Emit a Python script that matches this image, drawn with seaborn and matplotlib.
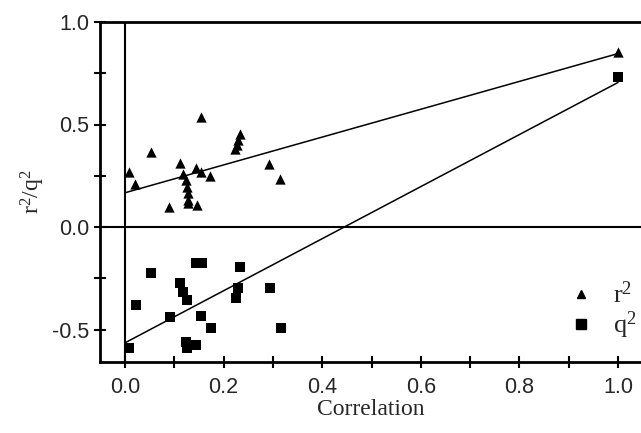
import matplotlib
matplotlib.use("Agg")
import matplotlib.pyplot as plt
import seaborn as sns
import numpy as np
import pandas as pd
from matplotlib.lines import Line2D

# ---- data ----
r2_x = [0.009, 0.02, 0.052, 0.09, 0.112, 0.117, 0.124, 0.126, 0.127, 0.128, 0.128,
        0.147, 0.145, 0.155, 0.155, 0.172, 0.233, 0.230, 0.227, 0.223, 0.293, 0.314, 1.0]
r2_y = [0.27, 0.21, 0.364, 0.096, 0.31, 0.26, 0.23, 0.197, 0.164, 0.13, 0.115,
        0.107, 0.286, 0.535, 0.27, 0.25, 0.454, 0.424, 0.40, 0.38, 0.306, 0.233, 0.855]

q2_x = [0.009, 0.022, 0.052, 0.091, 0.112, 0.117, 0.126, 0.124, 0.126, 0.145, 0.145,
        0.157, 0.155, 0.174, 0.233, 0.230, 0.225, 0.294, 0.316, 1.0]
q2_y = [-0.59, -0.38, -0.223, -0.44, -0.275, -0.315, -0.356, -0.56, -0.59, -0.576, -0.174,
        -0.174, -0.433, -0.495, -0.193, -0.296, -0.348, -0.296, -0.494, 0.73]

# fitted lines: [intercept, slope]
r2_fit = [0.167, 0.679]
q2_fit = [-0.565, 1.27]
fit_x = [0.0, 1.0]

x_ticks = [0.0, 0.2, 0.4, 0.6, 0.8, 1.0]
y_ticks = [-0.5, 0.0, 0.5, 1.0]

df = pd.concat([
    pd.DataFrame({"Correlation": r2_x, "value": r2_y, "series": "r2"}),
    pd.DataFrame({"Correlation": q2_x, "value": q2_y, "series": "q2"}),
])

sns.set_style("white")
plt.rcParams["font.family"] = ["Liberation Sans", "DejaVu Sans"]
plt.rcParams["mathtext.fontset"] = "custom"
plt.rcParams["mathtext.rm"] = "Liberation Serif"
plt.rcParams["mathtext.it"] = "Liberation Serif"

fig = plt.figure(figsize=(6.41, 4.33), dpi=100)
ax = fig.add_axes([100 / 641, 1 - 362 / 433, 541 / 641, 340 / 433])

sns.scatterplot(data=df[df.series == "r2"], x="Correlation", y="value", marker="^",
                color="black", s=55, edgecolor="black", linewidth=0, ax=ax, legend=False, zorder=3)
sns.scatterplot(data=df[df.series == "q2"], x="Correlation", y="value", marker="s",
                color="black", s=60, edgecolor="black", linewidth=0, ax=ax, legend=False, zorder=3)

fx = np.array(fit_x)
sns.lineplot(x=fx, y=r2_fit[0] + r2_fit[1] * fx, color="black", linewidth=1.1, ax=ax)
sns.lineplot(x=fx, y=q2_fit[0] + q2_fit[1] * fx, color="black", linewidth=1.1, ax=ax)

ax.axhline(0, color="black", linewidth=1.5, zorder=1)
ax.axvline(0, color="black", linewidth=1.5, zorder=1)

ax.set_xlim((100 - 125) / 493, (641 - 125) / 493)
ax.set_ylim((227 - 362) / 205, 1.0)

ax.set_xticks(x_ticks)
ax.set_xticks(np.arange(0.1, 1.01, 0.2), minor=True)
ax.set_yticks(y_ticks)
ax.set_yticks([-0.25, 0.25, 0.75], minor=True)
ax.set_xticklabels([f"{v:.1f}" for v in x_ticks])
ax.set_yticklabels([f"{v:.1f}" for v in y_ticks])
ax.tick_params(axis="both", which="both", direction="inout", length=9, width=1.5,
               color="black", labelsize=15.5, bottom=True, left=True)
ax.tick_params(axis="x", pad=6)
ax.tick_params(axis="y", pad=3)

for side in ["left", "bottom", "top"]:
    ax.spines[side].set_color("black")
    ax.spines[side].set_linewidth(2)
ax.spines["right"].set_visible(False)

ax.set_xlabel("Correlation", fontsize=17, family=["Liberation Serif"], labelpad=1)
ax.set_ylabel(r"$\mathrm{r}^2\mathrm{/q}^2$", fontsize=17, labelpad=4)

handles = [
    Line2D([], [], marker="^", color="black", linestyle="None", markersize=6),
    Line2D([], [], marker="s", color="black", linestyle="None", markersize=7),
]
ax.legend(handles, [r"$\mathrm{r}^2$", r"$\mathrm{q}^2$"], loc="lower right",
          bbox_to_anchor=(1.03, 0.0), frameon=False, prop={"size": 19},
          handletextpad=0.7, labelspacing=0.05, handlelength=1.0, borderaxespad=0.4)

fig.savefig("out.png", dpi=100)
